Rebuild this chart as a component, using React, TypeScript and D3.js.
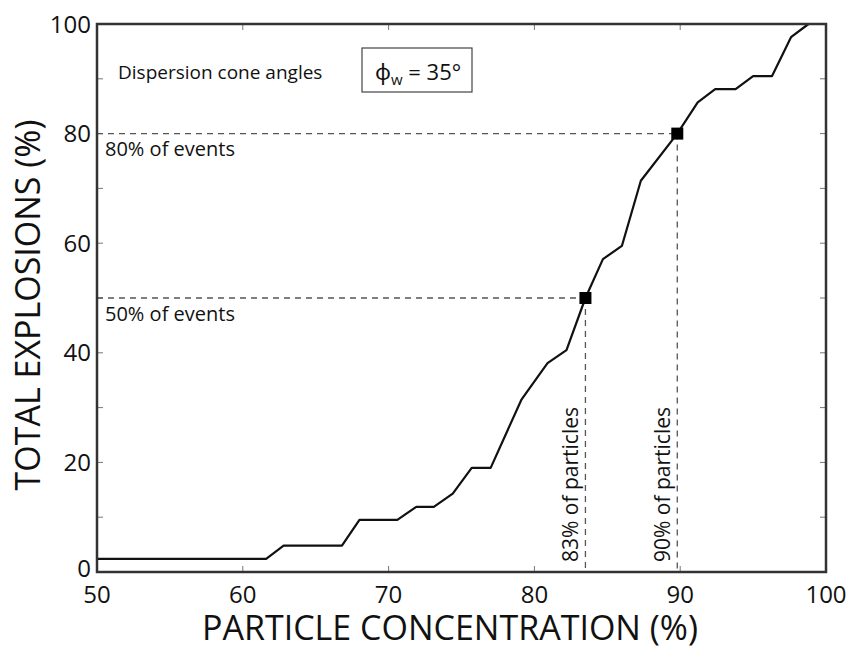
import * as d3 from 'd3'

// Cumulative curve
const concentration = [50, 61.6, 62.8, 66.8, 68.0, 70.6, 71.9, 73.1, 74.4, 75.7, 77.0, 79.1, 79.6, 80.9, 82.2, 83.5, 84.7, 86.0, 87.3, 89.8, 91.2, 92.4, 93.8, 95.0, 96.3, 97.6, 98.8]
const explosions = [2.4, 2.4, 4.8, 4.8, 9.5, 9.5, 11.9, 11.9, 14.3, 19.0, 19.0, 31.4, 33.3, 38.1, 40.5, 50.0, 57.1, 59.5, 71.4, 80.0, 85.7, 88.1, 88.1, 90.5, 90.5, 97.6, 100]

// Marked thresholds
const markX = [83.5, 89.8]
const markY = [50, 80]
const eventLabels = ['50% of events', '80% of events']
const particleLabels = ['83% of particles', '90% of particles']

const xTicks = [50, 60, 70, 80, 90, 100]
const yTicks = [0, 20, 40, 60, 80, 100]
const yMinor = [0, 10, 20, 30, 40, 50, 60, 70, 80, 90, 100]

const W = 851
const H = 648
const margin = { top: 24, right: 25, bottom: 76, left: 97 }
const font = '"Open Sans", "Noto Sans", sans-serif'

export default function App() {
  const x = d3.scaleLinear().domain([50, 100]).range([margin.left, W - margin.right])
  const y = d3.scaleLinear().domain([0, 100]).range([H - margin.bottom, margin.top])

  const pts = concentration.map((c, i) => [c, explosions[i]] as [number, number])
  const line = d3.line<[number, number]>()
    .x(d => x(d[0]))
    .y(d => y(d[1]))

  const x0 = x(50), x1 = x(100), y0 = y(0), y1 = y(100)
  const tk = 6

  return (
    <div style={{ position: 'absolute', left: 0, top: 0 }}>
      <svg width={W} height={H} style={{ display: 'block', fontFamily: font }}>
        <rect width={W} height={H} fill="#fff" />

        {/* inward ticks on all four sides */}
        <g stroke="#777" strokeWidth={1}>
          {xTicks.map(t => (
            <g key={'xt' + t}>
              <line x1={x(t)} x2={x(t)} y1={y0} y2={y0 - tk} />
              <line x1={x(t)} x2={x(t)} y1={y1} y2={y1 + tk} />
            </g>
          ))}
          {yMinor.map(t => (
            <g key={'yt' + t}>
              <line x1={x0} x2={x0 + tk} y1={y(t)} y2={y(t)} />
              <line x1={x1} x2={x1 - tk} y1={y(t)} y2={y(t)} />
            </g>
          ))}
        </g>

        {/* dashed guide lines */}
        <g stroke="#555" strokeWidth={1.3} strokeDasharray="6,5" fill="none">
          {markX.map((mx, i) => (
            <g key={'d' + i}>
              <line x1={x0} x2={x(mx)} y1={y(markY[i])} y2={y(markY[i])} />
              <line x1={x(mx)} x2={x(mx)} y1={y(markY[i])} y2={y0} />
            </g>
          ))}
        </g>

        <path d={line(pts) ?? ''} fill="none" stroke="#111" strokeWidth={2.2} strokeLinejoin="round" />

        {markX.map((mx, i) => (
          <rect key={'m' + i} x={x(mx) - 6} y={y(markY[i]) - 6} width={12} height={12} fill="#000" />
        ))}

        {/* frame */}
        <rect x={x0} y={y1} width={x1 - x0} height={y0 - y1} fill="none" stroke="#333" strokeWidth={2.5} />

        {/* annotations */}
        {eventLabels.map((t, i) => (
          <text key={t} x={x0 + 8} y={y(markY[i]) + 22.5} fontSize={20} fill="#111">{t}</text>
        ))}
        {particleLabels.map((t, i) => (
          <text key={t} transform={`translate(${x(markX[i]) - 7},${y0 - 10}) rotate(-90)`}
            fontSize={21} fill="#111">{t}</text>
        ))}

        <text x={118} y={79} fontSize={19} fill="#111">Dispersion cone angles</text>
        <rect x={362} y={48} width={110} height={44} fill="none" stroke="#444" strokeWidth={1.2} />
        <text x={375} y={80} fontSize={22} fill="#111">
          ϕ<tspan fontSize={15} dy={5}>w</tspan><tspan dy={-5}> = 35°</tspan>
        </text>

        {/* tick labels */}
        <g fontSize={24} fill="#111">
          {xTicks.map(t => (
            <text key={'xl' + t} x={x(t)} y={y0 + 31} textAnchor="middle">{t}</text>
          ))}
          {yTicks.map(t => (
            <text key={'yl' + t} x={x0 - 6} y={y(t) + (t === 0 ? 5 : 8.5)} textAnchor="end">{t}</text>
          ))}
        </g>

        {/* axis titles */}
        <text x={450} y={640} fontSize={34} textAnchor="middle" fill="#111">PARTICLE CONCENTRATION (%)</text>
        <text transform={`translate(40,305) rotate(-90)`} fontSize={34} textAnchor="middle" fill="#111">
          TOTAL EXPLOSIONS (%)
        </text>
      </svg>
    </div>
  )
}
